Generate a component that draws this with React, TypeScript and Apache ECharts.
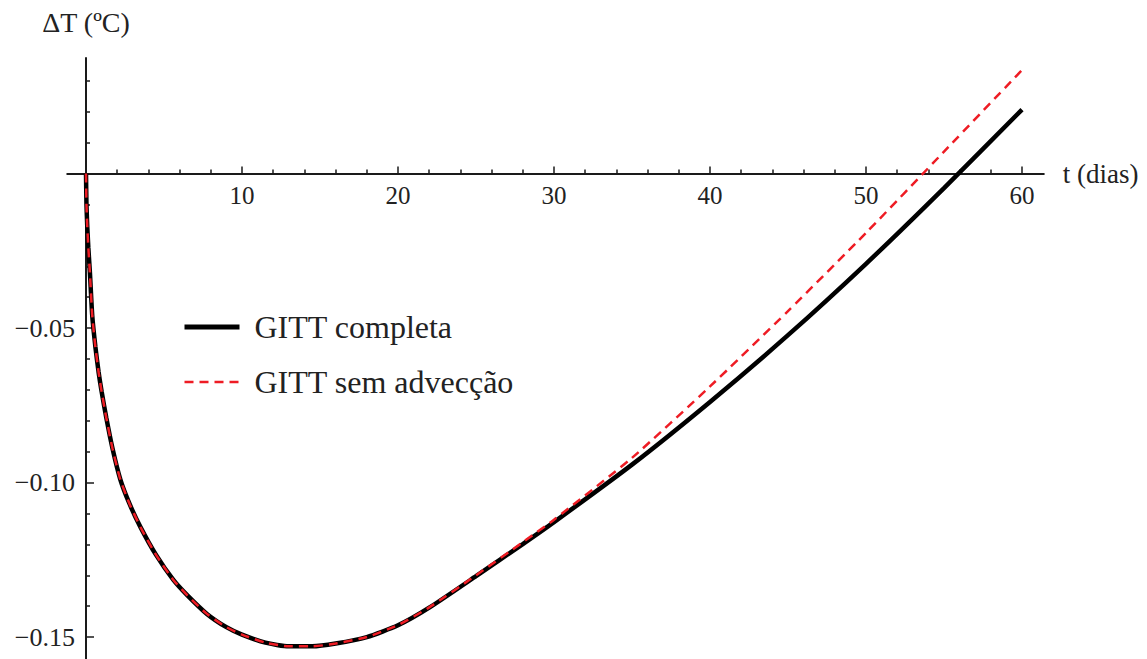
import React, { useEffect, useRef } from "react";
import * as echarts from "echarts";

// time in days
const tDays = [0, 0.03, 0.08, 0.15, 0.25, 0.4, 0.6, 0.8, 1.0, 1.3, 1.7, 2.2, 2.8, 3.5, 4.5, 5.6, 6.5, 7.75, 9, 10, 11.5, 13, 14.5, 16, 18, 20, 22, 25, 28, 30, 35, 40, 45, 50, 55, 60];
// GITT completa
const gittCompleta = [0, -0.010, -0.017, -0.024, -0.032, -0.046, -0.056, -0.064, -0.0705, -0.079, -0.089, -0.099, -0.107, -0.1145, -0.1235, -0.1315, -0.1365, -0.1425, -0.1468, -0.1492, -0.1518, -0.1530, -0.1530, -0.1521, -0.1500, -0.1462, -0.1405, -0.1303, -0.1199, -0.1128, -0.0942, -0.0739, -0.0523, -0.0292, -0.0047, 0.0207];
// GITT sem advecção
const gittSemAdveccao = [0, -0.010, -0.017, -0.024, -0.032, -0.046, -0.056, -0.064, -0.0705, -0.079, -0.089, -0.099, -0.107, -0.1145, -0.1235, -0.1315, -0.1365, -0.1425, -0.1468, -0.1492, -0.1518, -0.1530, -0.1530, -0.1521, -0.1500, -0.1461, -0.1404, -0.1300, -0.1193, -0.1120, -0.0920, -0.0689, -0.0445, -0.0192, 0.0071, 0.0335];

const seriesNames = ["GITT completa", "GITT sem advecção"];
const xMajorTicks = [10, 20, 30, 40, 50, 60];
const xMinorTicks = [2, 4, 6, 8, 12, 14, 16, 18, 22, 24, 26, 28, 32, 34, 36, 38, 42, 44, 46, 48, 52, 54, 56, 58];
const yMajorTicks = [-0.15, -0.1, -0.05];
const yMinorTicks = [0.03, 0.02, 0.01, -0.01, -0.02, -0.03, -0.04, -0.06, -0.07, -0.08, -0.09, -0.11, -0.12, -0.13, -0.14];

const FONT = "'Liberation Serif', 'Times New Roman', serif";
const AXIS_COLOR = "#1a1a1a";
const TEXT_COLOR = "#222";
const RED = "#ee1c24";

export default function App() {
  const ref = useRef<HTMLDivElement>(null);
  useEffect(() => {
    if (!ref.current) return;
    const chart = echarts.init(ref.current, undefined, { renderer: "svg" });

    // layout of the plot area (pixels)
    const H = 659;
    const W = 1147;
    const plotLeft = 86;
    const plotRight = 1022;
    const plotTop = 58;
    const plotBottom = 659;
    const tMin = 0, tMax = 60;
    const vMin = -0.1571, vMax = 0.0374;
    const pxPerDay = (plotRight - plotLeft) / (tMax - tMin);
    const zeroY = plotTop + ((plotBottom - plotTop) * vMax) / (vMax - vMin);
    const axisExtL = 1.2, axisExtR = 1.4; // x-axis line overhang (days)

    chart.setOption({
      animation: false,
      backgroundColor: "#ffffff",
      grid: [
        {
          left: plotLeft,
          right: W - plotRight,
          top: plotTop,
          bottom: H - plotBottom,
          containLabel: false,
          outerBoundsMode: "none",
        },
        {
          left: plotLeft - axisExtL * pxPerDay,
          right: W - plotRight - axisExtR * pxPerDay,
          top: plotTop,
          bottom: H - zeroY,
          containLabel: false,
          outerBoundsMode: "none",
        },
      ],
      legend: {
        orient: "vertical",
        left: 177,
        top: 305,
        itemWidth: 55,
        itemHeight: 20,
        itemGap: 21,
        itemStyle: { opacity: 0 },
        data: [
          { name: seriesNames[0], lineStyle: { width: 5, color: "#000" } },
          { name: seriesNames[1], lineStyle: { width: 2.5, color: RED, type: [9, 6] } },
        ],
        textStyle: {
          fontFamily: FONT,
          fontSize: 32,
          lineHeight: 34,
          color: TEXT_COLOR,
          padding: [0, 0, 0, 10],
        },
      },
      xAxis: [
        {
          // data axis (hidden)
          gridIndex: 0,
          type: "value",
          min: tMin,
          max: tMax,
          show: false,
        },
        {
          // visible time axis lying on ΔT = 0
          gridIndex: 1,
          type: "value",
          min: tMin - axisExtL,
          max: tMax + axisExtR,
          position: "bottom",
          name: "t (dias)",
          nameLocation: "end",
          nameGap: 19,
          nameTextStyle: { fontFamily: FONT, fontSize: 27, color: TEXT_COLOR },
          axisLine: { show: true, onZero: false, lineStyle: { color: AXIS_COLOR, width: 2 } },
          axisTick: { show: true, inside: true, length: 7, customValues: xMajorTicks, lineStyle: { color: AXIS_COLOR, width: 1.5 } },
          axisLabel: {
            show: true,
            customValues: xMajorTicks,
            margin: 9,
            fontFamily: FONT,
            fontSize: 25,
            color: TEXT_COLOR,
            formatter: (v: number) => String(v),
          },
          splitLine: { show: false },
        },
        {
          // minor ticks of the time axis
          gridIndex: 1,
          type: "value",
          min: tMin - axisExtL,
          max: tMax + axisExtR,
          position: "bottom",
          axisLine: { show: false, onZero: false },
          axisTick: { show: true, inside: true, length: 4, customValues: xMinorTicks, lineStyle: { color: AXIS_COLOR, width: 1.5 } },
          axisLabel: { show: false },
          splitLine: { show: false },
        },
      ],
      yAxis: [
        {
          gridIndex: 0,
          type: "value",
          min: vMin,
          max: vMax,
          position: "left",
          name: "ΔT (ºC)",
          nameLocation: "end",
          nameGap: 22,
          nameTextStyle: { fontFamily: FONT, fontSize: 28, color: TEXT_COLOR },
          axisLine: { show: true, onZero: false, lineStyle: { color: AXIS_COLOR, width: 2 } },
          axisTick: { show: true, inside: true, length: 8, customValues: yMajorTicks, lineStyle: { color: AXIS_COLOR, width: 1.5 } },
          axisLabel: {
            show: true,
            customValues: yMajorTicks,
            margin: 11,
            fontFamily: FONT,
            fontSize: 26,
            color: TEXT_COLOR,
            formatter: (v: number) => v.toFixed(2).replace("-", "\u2212"),
          },
          splitLine: { show: false },
        },
        {
          gridIndex: 0,
          type: "value",
          min: vMin,
          max: vMax,
          position: "left",
          axisLine: { show: false, onZero: false },
          axisTick: { show: true, inside: true, length: 4, customValues: yMinorTicks, lineStyle: { color: AXIS_COLOR, width: 1.5 } },
          axisLabel: { show: false },
          splitLine: { show: false },
        },
        {
          gridIndex: 1,
          type: "value",
          min: 0,
          max: 1,
          show: false,
        },
      ],
      series: [
        {
          name: seriesNames[0],
          type: "line",
          xAxisIndex: 0,
          yAxisIndex: 0,
          data: tDays.map((t, i) => [t, gittCompleta[i]]),
          symbol: "none",
          smooth: 0.2,
          lineStyle: { color: "#000000", width: 4.5 },
          itemStyle: { color: "#000000" },
          z: 2,
        },
        {
          name: seriesNames[1],
          type: "line",
          xAxisIndex: 0,
          yAxisIndex: 0,
          data: tDays.map((t, i) => [t, gittSemAdveccao[i]]),
          symbol: "none",
          smooth: 0.2,
          lineStyle: { color: RED, width: 2.5, type: [9, 6] },
          itemStyle: { color: RED },
          z: 3,
        },
      ],
    });
    return () => chart.dispose();
  }, []);
  return (
    <div
      ref={ref}
      style={{ position: "absolute", left: 0, top: 0, width: 1147, height: 659, background: "#fff" }}
    />
  );
}
